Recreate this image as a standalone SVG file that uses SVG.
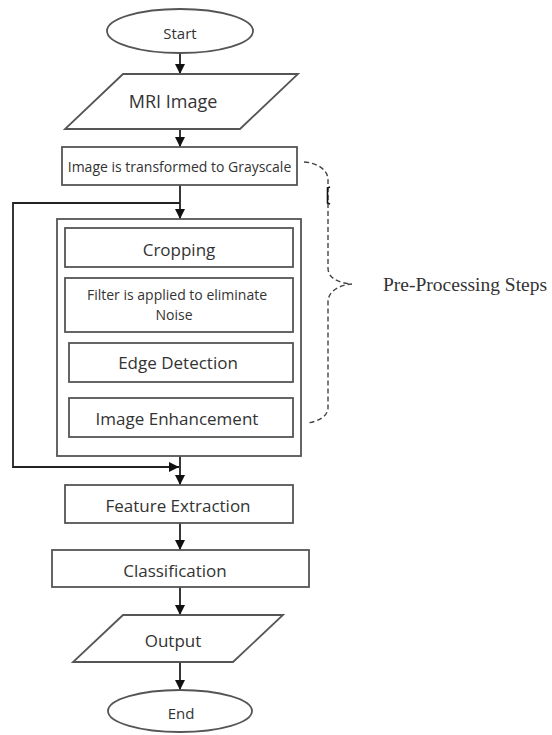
<svg xmlns="http://www.w3.org/2000/svg" width="552" height="735" viewBox="0 0 552 735">
  <defs>
    <marker id="arr" viewBox="0 0 10 10" refX="10" refY="5" markerWidth="10" markerHeight="10" markerUnits="userSpaceOnUse" orient="auto">
      <path d="M0,0 L10,5 L0,10 Z" fill="#111"/>
    </marker>
    <style>
      .shape { fill: #fff; stroke: #555; stroke-width: 1.8; }
      .lbl { font-family: "Open Sans", "Noto Sans", sans-serif; fill: #333; text-anchor: middle; dominant-baseline: central; }
      .conn { fill: none; stroke: #222; stroke-width: 1.8; }
      .brace { fill: none; stroke: #444; stroke-width: 1.4; stroke-dasharray: 5 3; }
      .note { font-family: "Liberation Serif", "Times New Roman", serif; fill: #333; font-size: 19.5px; dominant-baseline: central; }
    </style>
  </defs>
  <rect width="552" height="735" fill="#fff"/>

  <g id="connectors">
    <line class="conn" x1="180" y1="53" x2="180" y2="74" marker-end="url(#arr)"/>
    <line class="conn" x1="180" y1="129" x2="180" y2="147" marker-end="url(#arr)"/>
    <line class="conn" x1="180" y1="185" x2="180" y2="219" marker-end="url(#arr)"/>
    <polyline class="conn" points="180,203 13,203 13,467 179,467" marker-end="url(#arr)"/>
    <line class="conn" x1="180" y1="456" x2="180" y2="485" marker-end="url(#arr)"/>
    <line class="conn" x1="180" y1="523" x2="180" y2="550" marker-end="url(#arr)"/>
    <line class="conn" x1="180" y1="587" x2="180" y2="615" marker-end="url(#arr)"/>
    <line class="conn" x1="180" y1="662" x2="180" y2="690" marker-end="url(#arr)"/>
  </g>

  <g id="start">
    <ellipse class="shape" cx="180" cy="31" rx="73" ry="22"/>
    <text class="lbl" x="180" y="33" font-size="15px">Start</text>
  </g>

  <g id="mri-image">
    <polygon class="shape" points="123,74 298,74 240,129 65,129"/>
    <text class="lbl" x="173" y="101" font-size="18px">MRI Image</text>
  </g>

  <g id="grayscale">
    <rect class="shape" x="62" y="147" width="235" height="38"/>
    <text class="lbl" x="179.5" y="166" font-size="14px">Image is transformed to Grayscale</text>
  </g>

  <g id="preprocessing">
    <rect class="shape" x="57" y="219" width="244" height="237"/>
  </g>

  <g id="cropping">
    <rect class="shape" x="65" y="228" width="228" height="39"/>
    <text class="lbl" x="179" y="249" font-size="17px">Cropping</text>
  </g>

  <g id="filter">
    <rect class="shape" x="65" y="278" width="228" height="54"/>
    <text class="lbl" x="177" y="294" font-size="14px">Filter is applied to eliminate</text>
    <text class="lbl" x="174" y="314" font-size="14px">Noise</text>
  </g>

  <g id="edge-detection">
    <rect class="shape" x="69" y="343" width="224" height="39"/>
    <text class="lbl" x="178" y="362" font-size="17px">Edge Detection</text>
  </g>

  <g id="image-enhancement">
    <rect class="shape" x="69" y="398" width="224" height="39"/>
    <text class="lbl" x="177" y="418" font-size="17px">Image Enhancement</text>
  </g>

  <g id="feature-extraction">
    <rect class="shape" x="65" y="485" width="228" height="38"/>
    <text class="lbl" x="178" y="505" font-size="17px">Feature Extraction</text>
  </g>

  <g id="classification">
    <rect class="shape" x="52" y="550" width="257" height="37"/>
    <text class="lbl" x="175" y="570" font-size="17px">Classification</text>
  </g>

  <g id="output">
    <polygon class="shape" points="123,615 283,615 233,662 73,662"/>
    <text class="lbl" x="173" y="640" font-size="17px">Output</text>
  </g>

  <g id="end">
    <ellipse class="shape" cx="180" cy="711" rx="72" ry="21"/>
    <text class="lbl" x="181" y="713" font-size="15px">End</text>
  </g>

  <g id="brace-note">
    <path class="brace" d="M304,162 C318,163 328,170 328,180 L328,268 C328,278 338,283 352,284 C338,285 328,292 328,302 L328,408 C328,416 318,422 307,423"/>
    <path d="M330,187 L327.5,188 L327.5,203 L330,204" fill="none" stroke="#111" stroke-width="1.6"/>
    <text class="note" x="383" y="284">Pre-Processing Steps</text>
  </g>
</svg>
